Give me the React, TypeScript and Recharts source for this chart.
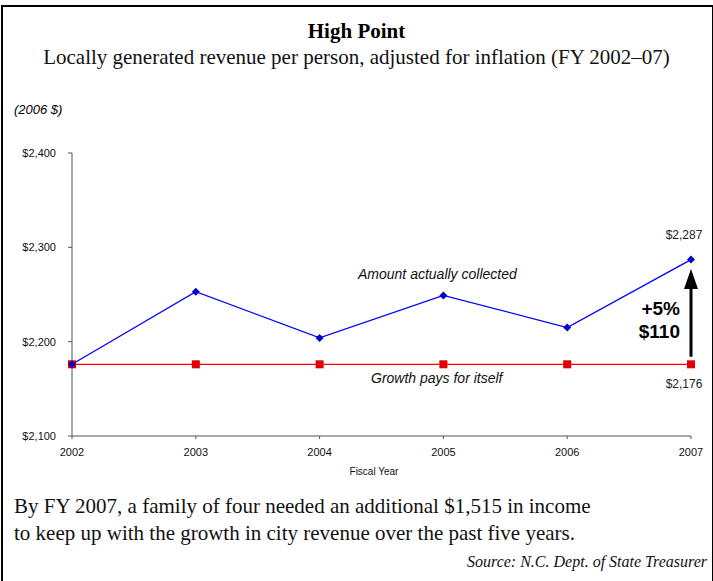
import { LineChart, Line, XAxis, YAxis, ReferenceLine, LabelList } from "recharts";

const years = [2002, 2003, 2004, 2005, 2006, 2007];
const collected = [2176, 2253, 2204, 2249, 2215, 2287];
const breakEven = [2176, 2176, 2176, 2176, 2176, 2176];
const yTicks = [2100, 2200, 2300, 2400];
// arrow runs from just above the red line to just below the last blue point
const arrowFrom = 2184;
const arrowTo = 2277;

const data = years.map((year, i) => ({
  year,
  collected: collected[i],
  breakEven: breakEven[i],
}));

const serif = '"Liberation Serif", "Times New Roman", serif';
const sans = '"Liberation Sans", Arial, sans-serif';

const fmt = (v: number) => "$" + v.toLocaleString("en-US");

function Diamond(props: any) {
  const { cx, cy } = props;
  if (cx == null || cy == null) return null;
  return (
    <path
      d={`M${cx},${cy - 4}L${cx + 4},${cy}L${cx},${cy + 4}L${cx - 4},${cy}Z`}
      fill="#0000cc"
    />
  );
}

function Square(props: any) {
  const { cx, cy } = props;
  if (cx == null || cy == null) return null;
  return <rect x={cx - 4} y={cy - 4} width={8} height={8} fill="#e00000" />;
}

function LastLabel(props: any) {
  const { x, y, value, index, dy } = props;
  if (index !== years.length - 1) return null;
  return (
    <text
      x={x - 7}
      y={y + dy}
      textAnchor="middle"
      fontFamily={sans}
      fontSize={12}
      fill="#222"
    >
      {fmt(value)}
    </text>
  );
}

function Arrow(props: any) {
  const { x1, y1, y2 } = props;
  const x = x1;
  return (
    <g>
      <line x1={x} y1={y1} x2={x} y2={y2 + 18} stroke="#000" strokeWidth={3} />
      <path d={`M${x},${y2}L${x + 7},${y2 + 20}L${x - 7},${y2 + 20}Z`} fill="#000" />
    </g>
  );
}

export default function App() {
  return (
    <div
      style={{
        position: "absolute",
        left: 0,
        top: 0,
        width: 713,
        height: 581,
        background: "#fff",
        overflow: "hidden",
      }}
    >
      <div
        style={{
          position: "absolute",
          left: 1,
          top: 5,
          width: 709,
          height: 600,
          border: "2px solid #000",
        }}
      />
      <div
        style={{
          position: "absolute",
          left: 0,
          width: 713,
          top: 19,
          textAlign: "center",
          fontFamily: serif,
          fontWeight: "bold",
          fontSize: 21,
        }}
      >
        High Point
      </div>
      <div
        style={{
          position: "absolute",
          left: 0,
          width: 713,
          top: 45,
          textAlign: "center",
          fontFamily: serif,
          fontSize: 21,
          color: "#111",
        }}
      >
        Locally generated revenue per person, adjusted for inflation (FY 2002–07)
      </div>
      <div
        style={{
          position: "absolute",
          left: 14,
          top: 102,
          fontFamily: sans,
          fontStyle: "italic",
          fontSize: 13,
        }}
      >
        (2006 $)
      </div>

      <div style={{ position: "absolute", left: 0, top: 0 }}>
        <LineChart
          width={713}
          height={581}
          data={data}
          margin={{ top: 153, right: 22, bottom: 115, left: 12 }}
        >
          <XAxis
            dataKey="year"
            type="number"
            domain={[2002, 2007]}
            ticks={years}
            height={30}
            stroke="#555"
            tickSize={3}
            tickMargin={9}
            tick={{ fontFamily: sans, fontSize: 11, fill: "#111" }}
          />
          <YAxis
            type="number"
            domain={[2100, 2400]}
            ticks={yTicks}
            width={60}
            stroke="#555"
            tickSize={4}
            tickMargin={12}
            tickFormatter={fmt}
            tick={{ fontFamily: sans, fontSize: 11, fill: "#111" }}
          />
          <ReferenceLine
            segment={[
              { x: 2007, y: arrowFrom },
              { x: 2007, y: arrowTo },
            ]}
            shape={Arrow}
          />
          <Line
            dataKey="breakEven"
            stroke="#ff0000"
            strokeWidth={1.3}
            dot={<Square />}
            activeDot={false}
            isAnimationActive={false}
          >
            <LabelList dataKey="breakEven" content={(p: any) => <LastLabel {...p} dy={24} />} />
          </Line>
          <Line
            dataKey="collected"
            stroke="#0000ff"
            strokeWidth={1.3}
            dot={<Diamond />}
            activeDot={false}
            isAnimationActive={false}
          >
            <LabelList dataKey="collected" content={(p: any) => <LastLabel {...p} dy={-21} />} />
          </Line>
        </LineChart>
      </div>

      <div
        style={{
          position: "absolute",
          left: 358,
          top: 266,
          fontFamily: sans,
          fontStyle: "italic",
          fontSize: 14,
          color: "#111",
        }}
      >
        Amount actually collected
      </div>
      <div
        style={{
          position: "absolute",
          left: 371,
          top: 370,
          fontFamily: sans,
          fontStyle: "italic",
          fontSize: 14,
          color: "#111",
        }}
      >
        Growth pays for itself
      </div>
      <div
        style={{
          position: "absolute",
          right: 33,
          top: 297,
          textAlign: "right",
          fontFamily: sans,
          fontWeight: "bold",
          fontSize: 19,
          lineHeight: "23px",
        }}
      >
        +5%
        <br />
        $110
      </div>
      <div
        style={{
          position: "absolute",
          left: 274,
          width: 200,
          top: 466,
          textAlign: "center",
          fontFamily: sans,
          fontSize: 10,
          color: "#111",
        }}
      >
        Fiscal Year
      </div>
      <div
        style={{
          position: "absolute",
          left: 14,
          top: 493,
          fontFamily: serif,
          fontSize: 21,
          lineHeight: "27px",
          color: "#111",
        }}
      >
        By FY 2007, a family of four needed an additional $1,515 in income
        <br />
        to keep up with the growth in city revenue over the past five years.
      </div>
      <div
        style={{
          position: "absolute",
          right: 6,
          top: 553,
          fontFamily: serif,
          fontStyle: "italic",
          fontSize: 16,
          color: "#111",
        }}
      >
        Source: N.C. Dept. of State Treasurer
      </div>
    </div>
  );
}
